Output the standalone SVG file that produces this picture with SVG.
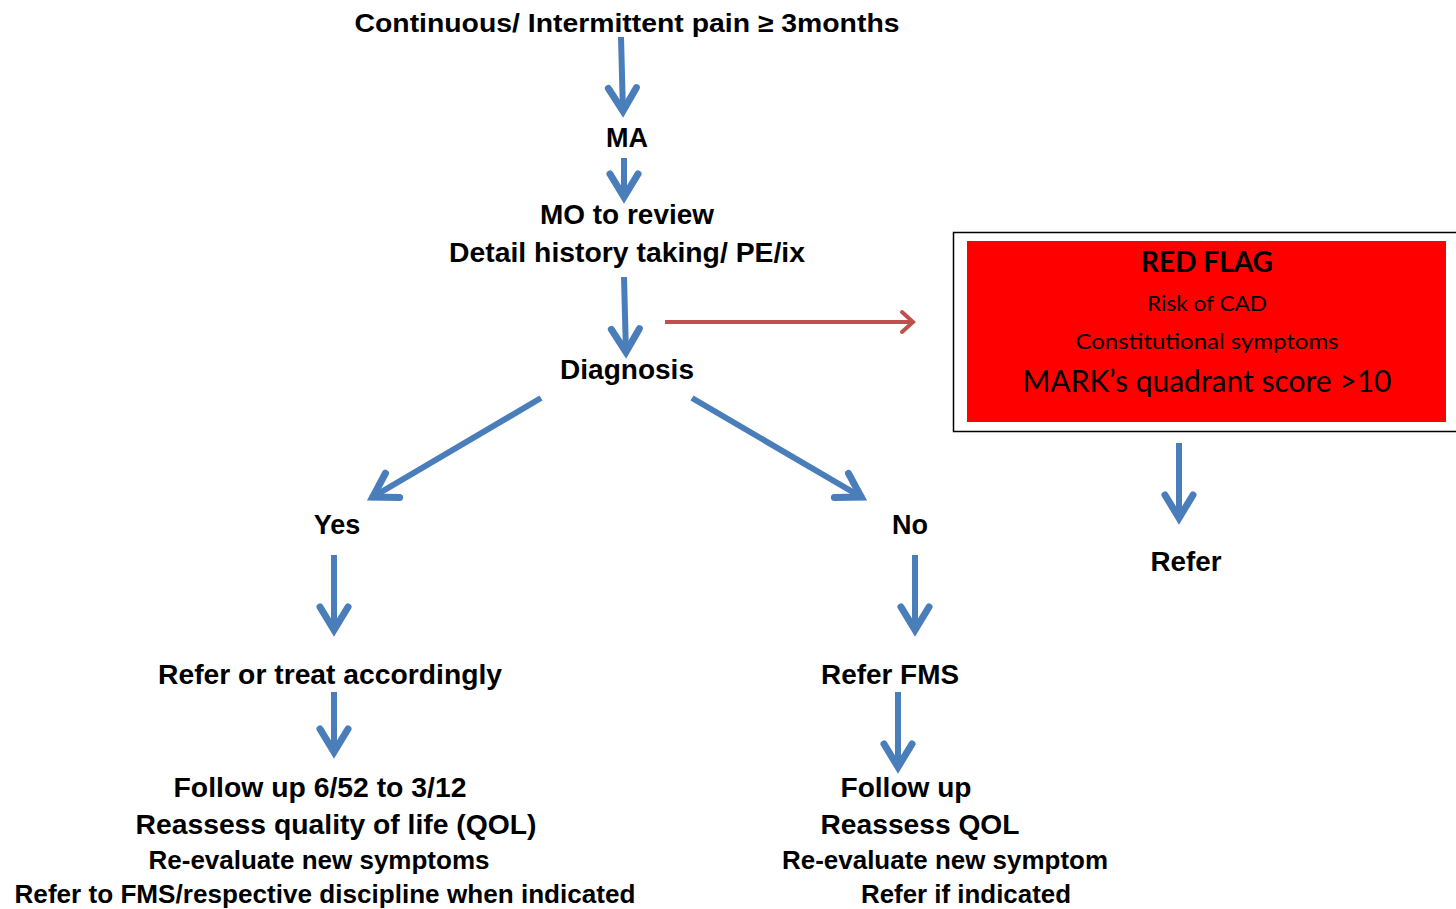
<svg xmlns="http://www.w3.org/2000/svg" width="1456" height="909" viewBox="0 0 1456 909">
<defs>
<style>
.t{font-family:"Liberation Sans",Arial,sans-serif;font-weight:bold;fill:#000;text-anchor:middle}
.c{font-family:Lato,"Open Sans",sans-serif;fill:#000;text-anchor:middle}
.b{stroke:#4a7ebb;stroke-width:6;fill:none}
.r{stroke:#c0504d;stroke-width:4;fill:none}
</style>
<marker id="ab" viewBox="-40 -20 50 40" refX="0" refY="0" markerWidth="50" markerHeight="40" markerUnits="userSpaceOnUse" orient="auto" overflow="visible">
<path d="M-25,-14 L-2,0 L-25,14" fill="none" stroke="#4a7ebb" stroke-width="7" stroke-linecap="round" stroke-linejoin="miter"/>
</marker>
<marker id="ar" viewBox="-20 -20 30 40" refX="0" refY="0" markerWidth="30" markerHeight="40" markerUnits="userSpaceOnUse" orient="auto" overflow="visible">
<path d="M-11,-10 L0,0 L-11,10" fill="none" stroke="#c0504d" stroke-width="4" stroke-linecap="round"/>
</marker>
</defs>
<rect width="1456" height="909" fill="#fff"/>
<g id="connectors">
<line class="b" x1="621" y1="37" x2="623" y2="113" marker-end="url(#ab)"/>
<line class="b" x1="624" y1="158" x2="624" y2="199" marker-end="url(#ab)"/>
<line class="b" x1="624" y1="277" x2="626" y2="354" marker-end="url(#ab)"/>
<line class="b" x1="541" y1="398" x2="371" y2="498" marker-end="url(#ab)"/>
<line class="b" x1="692" y1="398" x2="863" y2="498" marker-end="url(#ab)"/>
<line class="r" x1="665" y1="322" x2="913" y2="322" marker-end="url(#ar)"/>
<line class="b" x1="1179" y1="443" x2="1179" y2="520" marker-end="url(#ab)"/>
<line class="b" x1="334" y1="555" x2="334" y2="632" marker-end="url(#ab)"/>
<line class="b" x1="915" y1="555" x2="915" y2="632" marker-end="url(#ab)"/>
<line class="b" x1="334" y1="692" x2="334" y2="754" marker-end="url(#ab)"/>
<line class="b" x1="898" y1="692" x2="898" y2="769" marker-end="url(#ab)"/>
</g>
<g id="start"><text class="t" x="627" y="32" font-size="26" textLength="545" lengthAdjust="spacingAndGlyphs">Continuous/ Intermittent pain ≥ 3months</text></g>
<g id="ma"><text class="t" x="627" y="147" font-size="27">MA</text></g>
<g id="mo">
<text class="t" x="627" y="224" font-size="27" textLength="174" lengthAdjust="spacingAndGlyphs">MO to review</text>
<text class="t" x="627" y="262" font-size="27" textLength="356" lengthAdjust="spacingAndGlyphs">Detail history taking/ PE/ix</text>
</g>
<g id="diagnosis"><text class="t" x="627" y="379" font-size="27" textLength="134" lengthAdjust="spacingAndGlyphs">Diagnosis</text></g>
<g id="redflag">
<rect x="953.5" y="232.5" width="505" height="199" fill="#fff" stroke="#000" stroke-width="1.5"/>
<rect x="967" y="241" width="479" height="181" fill="#ff0000"/>
<text class="c" x="1207" y="272" font-size="28" font-weight="bold" textLength="132" lengthAdjust="spacingAndGlyphs">RED FLAG</text>
<text class="c" x="1207" y="311" font-size="22" textLength="120" lengthAdjust="spacingAndGlyphs">Risk of CAD</text>
<text class="c" x="1207" y="349" font-size="22" textLength="263" lengthAdjust="spacingAndGlyphs">Constitutional symptoms</text>
<text class="c" x="1207" y="392" font-size="31" textLength="369" lengthAdjust="spacingAndGlyphs">MARK’s quadrant score &gt;10</text>
</g>
<g id="yes"><text class="t" x="337" y="534" font-size="27">Yes</text></g>
<g id="no"><text class="t" x="910" y="534" font-size="27">No</text></g>
<g id="refer"><text class="t" x="1186" y="571" font-size="27" textLength="71" lengthAdjust="spacingAndGlyphs">Refer</text></g>
<g id="treat"><text class="t" x="330" y="684" font-size="27" textLength="344" lengthAdjust="spacingAndGlyphs">Refer or treat accordingly</text></g>
<g id="referfms"><text class="t" x="890" y="684" font-size="27" textLength="138" lengthAdjust="spacingAndGlyphs">Refer FMS</text></g>
<g id="followleft">
<text class="t" x="320" y="797" font-size="28" textLength="293" lengthAdjust="spacingAndGlyphs">Follow up 6/52 to 3/12</text>
<text class="t" x="336" y="834" font-size="28" textLength="401" lengthAdjust="spacingAndGlyphs">Reassess quality of life (QOL)</text>
<text class="t" x="319" y="869" font-size="25" textLength="341" lengthAdjust="spacingAndGlyphs">Re-evaluate new symptoms</text>
<text class="t" x="325" y="903" font-size="25" textLength="621" lengthAdjust="spacingAndGlyphs">Refer to FMS/respective discipline when indicated</text>
</g>
<g id="followright">
<text class="t" x="906" y="797" font-size="27" textLength="131" lengthAdjust="spacingAndGlyphs">Follow up</text>
<text class="t" x="920" y="834" font-size="27" textLength="199" lengthAdjust="spacingAndGlyphs">Reassess QOL</text>
<text class="t" x="945" y="869" font-size="25" textLength="326" lengthAdjust="spacingAndGlyphs">Re-evaluate new symptom</text>
<text class="t" x="966" y="903" font-size="25" textLength="210" lengthAdjust="spacingAndGlyphs">Refer if indicated</text>
</g>
</svg>
